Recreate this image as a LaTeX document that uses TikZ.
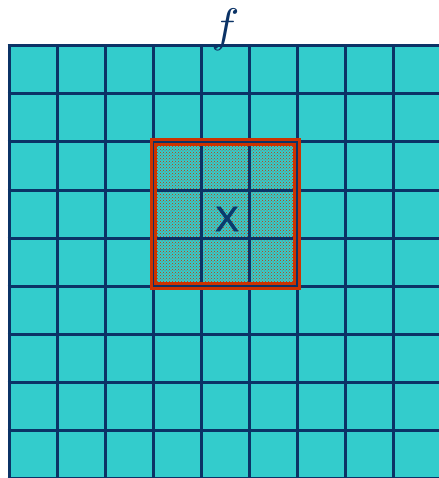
\documentclass[tikz,border=0pt]{standalone}
\usepackage{fontspec}
\newfontfamily\xfont[FakeBold=2]{Liberation Sans}
\usetikzlibrary{patterns}
\definecolor{cellc}{HTML}{33CCCC}
\definecolor{gridc}{HTML}{0B3366}
\definecolor{hlred}{HTML}{CC3300}
\definecolor{xcol}{HTML}{0A3C6E}
\tikzset{
  gridline/.style={draw=gridc, line width=3pt},
  redframe/.style={draw=hlred, line width=3pt},
  redinner/.style={draw=hlred, line width=2.5pt},
  labeltext/.style={inner sep=0pt, anchor=base}
}
\begin{document}
\begin{tikzpicture}[x=1pt,y=-1pt]
\useasboundingbox (0,0) rectangle (438,478);
% cells
\fill[cellc] (9,46) rectangle (445,485);
% highlighted 3x3 block
\fill[pattern=crosshatch dots, pattern color=hlred] (153,142) rectangle (297,286);
% grid
\foreach \x in {9,57,...,393} \draw[gridline] (\x,44.5) -- (\x,482);
\foreach \y in {46,94,...,478} \draw[gridline] (7.5,\y) -- (442,\y);
% red frames
\draw[redframe] (151,140) rectangle (299,288);
\draw[redinner] (155.5,144.5) rectangle (294.5,283.5);
% labels
\node[labeltext, text=gridc] (f) at (225.5,41.5) {\scalebox{4.7}{$f$}};
\node[labeltext, font=\xfont\fontsize{35}{40}\selectfont, text=xcol] (x) at (227,231) {X};
\end{tikzpicture}
\end{document}
